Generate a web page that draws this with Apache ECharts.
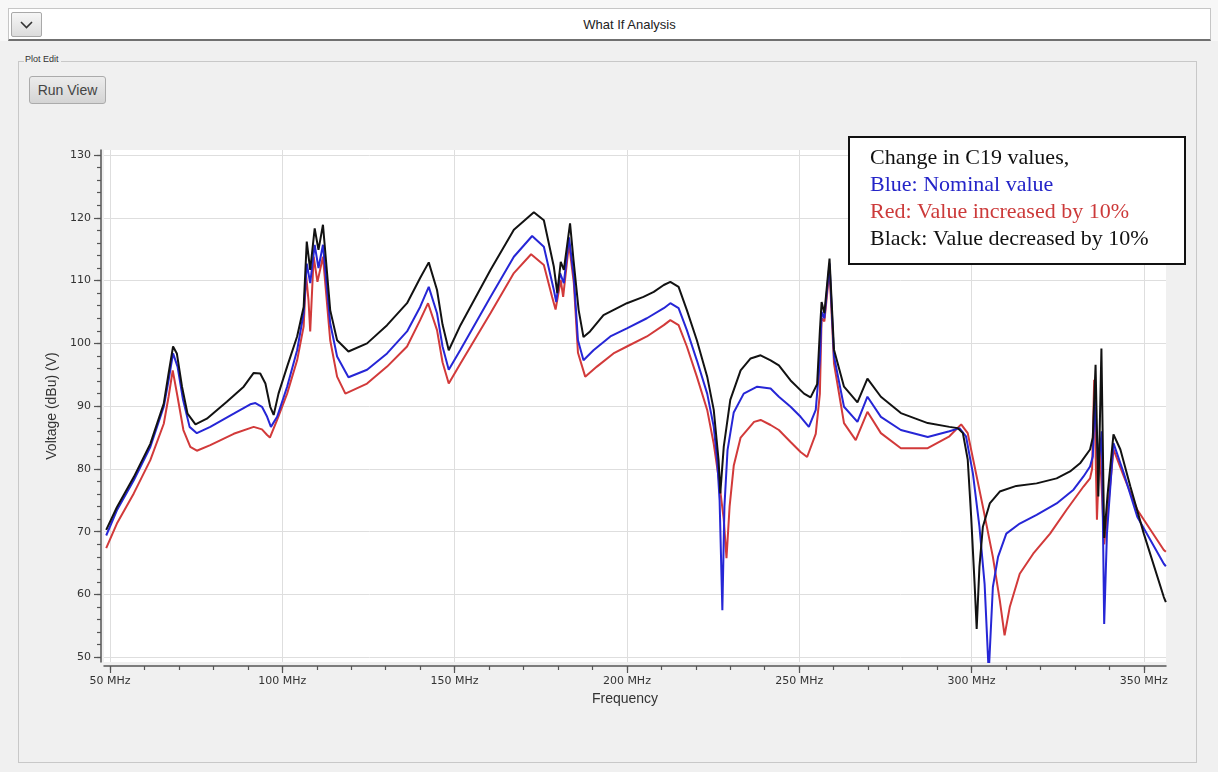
<!DOCTYPE html>
<html>
<head>
<meta charset="utf-8">
<script src="https://cdn.jsdelivr.net/npm/echarts@6/dist/echarts.min.js"></script>
<style>
  html, body { margin: 0; padding: 0; }
  body { width: 1218px; height: 772px; background: #f7f7f7; position: relative; overflow: hidden; font-family: "Liberation Sans", Arial, sans-serif; }
  .header { position: absolute; left: 8px; top: 8px; width: 1201px; height: 30px; background: #fff; border: 1px solid #c6c6c6; border-bottom: 2px solid #707070; }
  .chev { position: absolute; left: 2px; top: 3px; width: 29px; height: 23px; border: 1px solid #a9a9a9; border-radius: 2px; background: linear-gradient(#f6f6f6, #dcdcdc); }
  .chev svg { position: absolute; left: 8px; top: 8px; }
  .title { position: absolute; left: 40px; right: 0; top: 8px; text-align: center; font-size: 13px; color: #222; }
  .panel { position: absolute; left: 0; top: 41px; width: 1218px; height: 731px; background: #f0f0f0; }
  .group { position: absolute; left: 18px; top: 61px; width: 1177px; height: 700px; border: 1px solid #c8c8c8; }
  .glabel { position: absolute; left: 24px; top: 54px; font-size: 9px; color: #333; background: #f0f0f0; padding: 0 2px 0 1px; }
  .runbtn { position: absolute; left: 29px; top: 76px; width: 75px; height: 26px; border: 1px solid #ababab; border-radius: 3px; background: linear-gradient(#ececec, #d4d4d4); font-size: 14px; color: #444; text-align: center; line-height: 26px; }
  #main { position: absolute; left: 0; top: 0; width: 1218px; height: 772px; }
</style>
</head>
<body>
<div class="header">
  <div class="chev"><svg width="13" height="8"><polyline points="1,1 6.5,6.5 12,1" stroke="#333" stroke-width="1.6" fill="none"/></svg></div>
  <div class="title">What If Analysis</div>
</div>
<div class="panel"></div>
<div class="group"></div>
<div class="glabel">Plot Edit</div>
<div class="runbtn">Run View</div>
<div id="main"></div>
<script>
// tick labels
var freqTicks = [50, 100, 150, 200, 250, 300, 350];
var voltTicks = [50, 60, 70, 80, 90, 100, 110, 120, 130];

// Black: value decreased by 10%
var blackFreq = [48.9, 52, 56.9, 61.7, 65.6, 67, 68.3, 69.4, 70.9, 72.5, 74.8, 78.1, 83.9, 88.8, 91.7, 93.6, 95.1, 96.5, 97.5, 98.9, 101.4, 104.3,
    106.2, 107.1, 108.1, 109.4, 110.5, 111.8, 113.9, 115.9, 119.2, 124.6, 130.4, 136.2, 140, 142.5, 144.9, 146.5, 148.3, 151.7,
    160.4, 167.2, 173, 175.9, 178.8, 179.8, 180.8, 181.7, 183.5, 184.5, 186, 187.4, 189.3, 193.2, 200, 204.8, 207.8, 210.7, 212.6, 215, 217.4, 220.3, 223.3, 225.2, 226.6, 227.1, 228.1,
    230, 233, 235.9, 238.8, 241.7, 244.1, 247.5, 251.4, 253.3, 255.2, 256, 256.5, 257.3, 258.8, 260.1, 263, 266.9, 269.8, 273.7, 279.5, 287.3,
    293.6, 296, 297.5, 298.9, 299.9, 300.9, 301.5, 302.3, 303.3, 305.3, 308.2, 313, 318.9, 324.7, 328.6, 331.5, 334.4, 335.2, 336, 336.8, 337.7, 338.5, 339.5, 341.2, 343.2, 346.1, 350, 355.8, 356.4];
var blackDb = [70.3, 73.9, 78.7, 84, 90.4, 95.2, 99.5, 98.4, 93.1, 88.8, 87.1, 88, 90.7, 93.1, 95.3, 95.2, 93.6, 89.9, 88.6, 92, 96.3, 101.1,
    105.8, 116.2, 111.7, 118.3, 114.9, 118.9, 105.3, 100.5, 98.7, 100, 102.9, 106.4, 110.4, 112.9, 108.5, 103, 98.9, 102.9,
    111.7, 118.1, 120.9, 119.6, 112.2, 108, 113, 111.7, 119.1, 113.3, 105.3, 101, 101.9, 104.5, 106.4, 107.4, 108.2, 109.3, 109.8, 109, 105.3, 100.5, 94.7, 89.4, 81.4, 76.1, 83.5,
    91, 95.7, 97.6, 98.1, 97.3, 96.5, 94.1, 92, 91.4, 93.5, 102, 106.6, 104.8, 113.5, 99, 93.1, 90.6, 94.4, 91.5, 88.9, 87.3,
    86.7, 86.5, 85.7, 81.5, 72.4, 61.7, 54.5, 64.4, 70.8, 74.5, 76.4, 77.3, 77.7, 78.5, 79.6, 80.9, 83.1, 85, 96.6, 75.6, 99.2, 69, 76, 85.5, 83.1, 77.2, 69.7, 59.6, 58.8];

// Blue: nominal value
var blueFreq = [48.9, 52, 56.9, 61.7, 65.6, 67, 68.3, 69.6, 71.2, 73.1, 75.2, 79.1, 85.9, 90.7, 92.2, 94.1, 95.6, 96.7, 98.5, 101.4, 104.3,
    106.2, 107.1, 108.1, 109.4, 110.5, 111.8, 113.9, 115.9, 119.2, 124.6, 130.4, 136.2, 140, 142.5, 144.9, 146.5, 148.3, 151.7,
    160.4, 167.2, 172.5, 175.9, 178.8, 179.5, 180.6, 181.7, 183.2, 184.6, 185.8, 187.4, 190.3, 195.2, 200, 205.8, 210.7, 212.6, 215, 217.4, 220.3, 223.3, 225.2, 226.2, 226.9, 227.7, 228.3, 229.2,
    231, 233.9, 237.8, 241.7, 244.1, 247.5, 250.4, 252.8, 254.8, 256, 256.5, 257.3, 258.8, 260.1, 263, 266.9, 269.8, 273.7, 279.5, 287.3,
    293.6, 296.5, 298.4, 300.4, 302.3, 303.8, 305, 306.2, 307.7, 310.1, 314, 318.9, 324.7, 329.6, 332.5, 334.4, 335.2, 335.8, 336.8, 337.8, 338.5, 339.3, 341.2, 344.2, 348.1, 355.8, 356.4];
var blueDb = [69.4, 73.4, 78.2, 83.5, 89.9, 94.1, 98.4, 96.3, 91, 86.7, 85.7, 86.7, 88.8, 90.3, 90.5, 89.9, 88.3, 86.7, 88.3, 93.1, 98.9,
    104.8, 112.7, 109.6, 115.7, 112, 115.7, 103.2, 97.9, 94.6, 95.8, 98.4, 101.9, 105.8, 109, 104.8, 99.5, 95.8, 99,
    107.4, 113.8, 117.1, 115.4, 108.5, 106.6, 111.2, 109.6, 116.9, 110.6, 100.5, 97.3, 98.9, 101.1, 102.4, 104, 105.6, 106.4, 105.6, 102.1, 97.3, 92, 86.7, 81.4, 75, 57.5, 74, 83,
    89, 92, 93.1, 92.8, 91.5, 89.9, 88.3, 86.7, 89.4, 97.3, 105, 104, 112.7, 97.9, 89.9, 87.5, 91.5, 88.3, 86.2, 85.1,
    86, 86.5, 85.2, 79.3, 70.8, 61.7, 47.5, 61.2, 66, 69.7, 71.3, 72.7, 74.5, 76.7, 78.8, 80.4, 82, 91, 80.4, 86, 55.3, 69.7, 84.1, 79.3, 72.4, 64.9, 64.5];

// Red: value increased by 10%
var redFreq = [48.9, 52, 56.9, 61.7, 65.6, 67, 68.2, 69.6, 71.3, 73.3, 75.2, 79.1, 85.9, 91.7, 94.1, 95.6, 96.4, 98.5, 101.4, 104.3,
    106.2, 106.9, 107.6, 108.1, 109.1, 110.2, 111.8, 113.9, 115.9, 118.3, 124.6, 130.4, 136.2, 140, 142.3, 144.9, 146.5, 148.3, 151.7,
    160.4, 167.2, 172.2, 175.9, 178.3, 179.3, 180.8, 181.5, 183.2, 184.6, 185.8, 187.9, 191.3, 196.1, 200, 205.8, 210.7, 212.6, 215, 217.4, 220.3, 223.3, 225.2, 226.6, 228.1, 228.9, 229.8,
    231, 233, 236.9, 238.8, 241.7, 244.1, 247.5, 250.4, 252.3, 254.8, 256, 256.5, 257.3, 258.8, 260.1, 263, 266.4, 269.8, 273.7, 279.5, 287.3,
    293.6, 297, 298.9, 300.9, 303.3, 306.2, 308.2, 309.6, 311.1, 314, 317.9, 322.8, 327.6, 332.5, 334.4, 335, 335.6, 336.4, 337.2, 338.5, 339.3, 341.2, 344.2, 348.1, 355.8, 356.4];
var redDb = [67.4, 71.3, 76.1, 81.4, 87.2, 91.5, 95.7, 91.5, 86.2, 83.5, 82.9, 83.8, 85.6, 86.7, 86.3, 85.4, 85, 87.8, 92, 97.3,
    102.7, 110.9, 106.9, 101.9, 113.8, 109.8, 113.8, 100.5, 94.7, 92, 93.6, 96.3, 99.5, 103.7, 106.4, 102.1, 97, 93.6, 96.8,
    104.8, 111.2, 114.2, 112.5, 107.4, 105.4, 110.1, 107.4, 115.9, 109.6, 98.5, 94.7, 96.3, 98.4, 99.5, 101.1, 102.9, 103.7, 102.9, 99.5, 94.7, 89.4, 84, 78.7, 72, 65.8, 74,
    80.5, 85, 87.5, 87.8, 87, 86.2, 84.3, 82.7, 81.9, 85.6, 92, 104, 103.5, 111.7, 96.8, 87.3, 84.6, 89.1, 85.7, 83.3, 83.3,
    85.2, 87.1, 85.7, 80.4, 74, 66, 59.1, 53.5, 58, 63.3, 66.5, 69.7, 73.5, 77.2, 78.5, 80, 94.2, 71.9, 84, 68, 72, 83.1, 78.8, 73.5, 67.1, 66.8];

var legendLines = ['Change in C19 values,', 'Blue: Nominal value', 'Red: Value increased by 10%', 'Black: Value decreased by 10%'];
var legendColors = ['#111111', '#2424c8', '#cc3a3a', '#111111'];

function pairs(xs, ys) {
    return xs.map(function (x, i) { return [x, ys[i]]; });
}
function range(a, b, step) {
    var out = [];
    for (var v = a; v <= b; v += step) out.push(v);
    return out;
}

(function () {
    var myChart = echarts.init(document.getElementById('main'));
    var tickFont = { color: '#333', fontSize: 11, fontFamily: 'DejaVu Sans' };
    var xMin = 48.26, xMax = 356.44, yMin = 49.25, yMax = 130.8;

    // legend box drawn as a note on top of the plot
    var legendBox = [{
        type: 'rect', z: 200,
        shape: { x: 849, y: 137, width: 336, height: 127 },
        style: { fill: '#ffffff', stroke: '#111111', lineWidth: 2 }
    }];
    legendLines.forEach(function (t, i) {
        legendBox.push({
            type: 'text', z: 201, x: 870, y: 158 + i * 27,
            style: { text: t, fill: legendColors[i], fontSize: 22, fontFamily: 'Liberation Serif', verticalAlign: 'middle' }
        });
    });

    var option = {
        animation: false,
        grid: {
            left: 104, top: 150, width: 1062, height: 512,
            show: true, backgroundColor: '#ffffff', borderWidth: 0
        },
        xAxis: [
            {
                type: 'value', min: xMin, max: xMax, offset: 4,
                name: 'Frequency', nameLocation: 'middle', nameGap: 26,
                nameTextStyle: { color: '#333', fontSize: 14, fontFamily: 'Liberation Sans', padding: [0, 20, 0, 0] },
                axisLine: { lineStyle: { color: '#555', width: 1.5 } },
                axisTick: { customValues: freqTicks, length: 7, lineStyle: { color: '#555', width: 1.2 } },
                axisLabel: Object.assign({ customValues: freqTicks, margin: 10, formatter: function (v) { return v + ' MHz'; } }, tickFont),
                splitLine: { show: true, lineStyle: { color: '#dedede', width: 1 } }
            },
            {
                type: 'value', min: xMin, max: xMax, offset: 4, position: 'bottom',
                axisLine: { show: false },
                axisTick: { customValues: range(50, 350, 10), length: 4, lineStyle: { color: '#555', width: 1.2 } },
                axisLabel: { show: false },
                splitLine: { show: false }
            }
        ],
        yAxis: [
            {
                type: 'value', min: yMin, max: yMax, offset: 3,
                name: 'Voltage (dBu) (V)', nameLocation: 'middle', nameGap: 38,
                nameTextStyle: { color: '#333', fontSize: 14, fontFamily: 'Liberation Sans' },
                axisLine: { show: true, lineStyle: { color: '#555', width: 1.5 } },
                axisTick: { show: true, customValues: voltTicks, length: 7, lineStyle: { color: '#555', width: 1.2 } },
                axisLabel: Object.assign({ customValues: voltTicks, margin: 10 }, tickFont),
                splitLine: { show: true, lineStyle: { color: '#dedede', width: 1 } }
            },
            {
                type: 'value', min: yMin, max: yMax, offset: 3, position: 'left',
                axisLine: { show: false },
                axisTick: { show: true, customValues: range(50, 130, 2), length: 4, lineStyle: { color: '#555', width: 1.2 } },
                axisLabel: { show: false },
                splitLine: { show: false }
            }
        ],
        series: [
            { name: 'Red', type: 'line', showSymbol: false, data: pairs(redFreq, redDb), lineStyle: { color: '#d23a3a', width: 2 }, itemStyle: { color: '#d23a3a' } },
            { name: 'Blue', type: 'line', showSymbol: false, data: pairs(blueFreq, blueDb), lineStyle: { color: '#2626d6', width: 2 }, itemStyle: { color: '#2626d6' } },
            { name: 'Black', type: 'line', showSymbol: false, data: pairs(blackFreq, blackDb), lineStyle: { color: '#121212', width: 2 }, itemStyle: { color: '#121212' } }
        ],
        graphic: legendBox
    };
    myChart.setOption(option);
})();
</script>
</body>
</html>
